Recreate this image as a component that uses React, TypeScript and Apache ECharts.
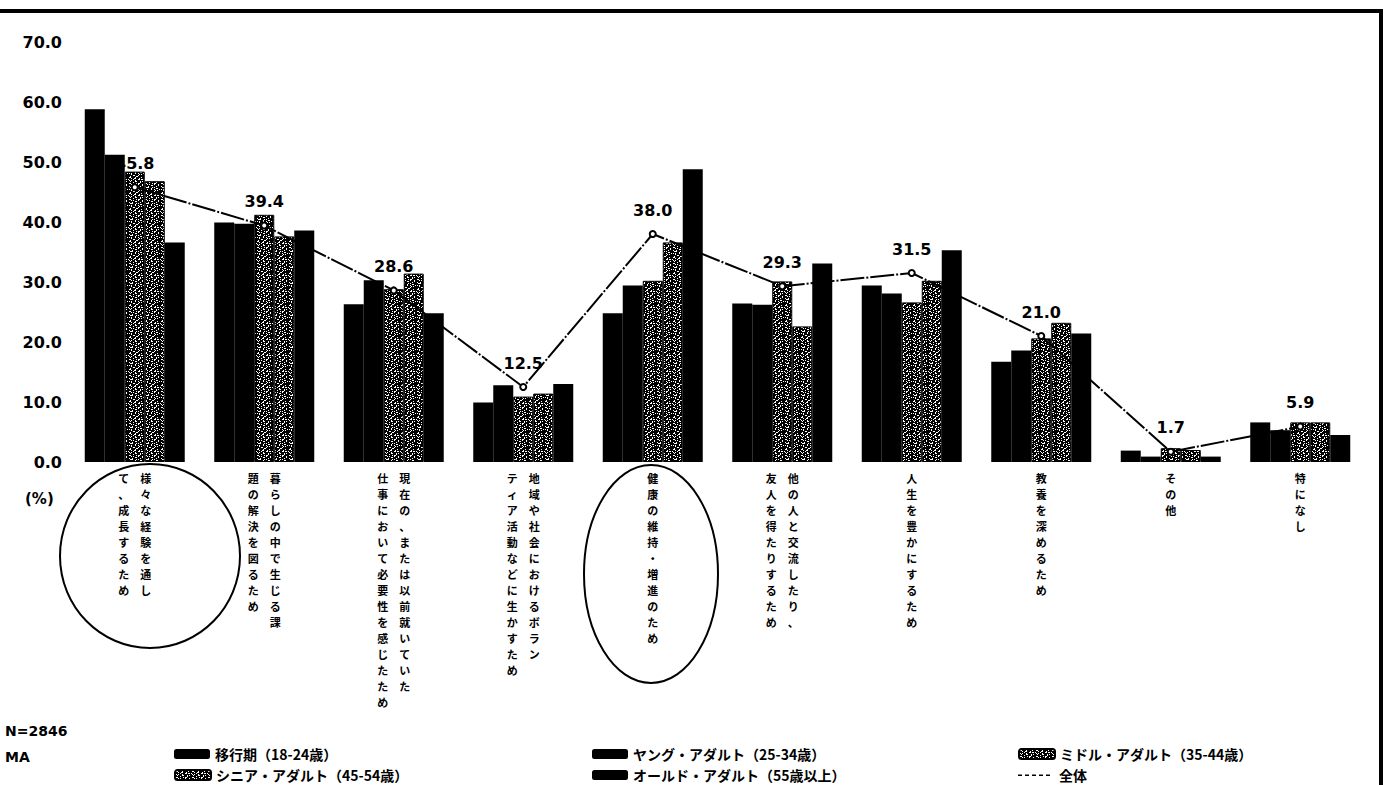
import React, { useEffect, useRef } from "react";
import * as echarts from "echarts";

// Reasons for learning, by life stage (multiple answers, %). "\n" marks the
// break between the right-hand and left-hand column of the vertical label.
const categories = [
  "様々な経験を通し\nて、成長するため",
  "暮らしの中で生じる課\n題の解決を図るため",
  "現在の、または以前就いていた\n仕事において必要性を感じたため",
  "地域や社会におけるボラン\nティア活動などに生かすため",
  "健康の維持・増進のため",
  "他の人と交流したり、\n友人を得たりするため",
  "人生を豊かにするため",
  "教養を深めるため",
  "その他",
  "特になし",
];

const seriesNames = [
  "移行期（18-24歳）",
  "ヤング・アダルト（25-34歳）",
  "ミドル・アダルト（35-44歳）",
  "シニア・アダルト（45-54歳）",
  "オールド・アダルト（55歳以上）",
  "全体",
];

const transition = [58.8, 39.9, 26.3, 9.9, 24.8, 26.4, 29.4, 16.7, 1.9, 6.6];
const youngAdult = [51.2, 39.7, 30.3, 12.8, 29.4, 26.2, 28.1, 18.6, 0.9, 5.3];
const middleAdult = [48.4, 41.2, 28.8, 10.9, 30.2, 30.1, 26.6, 20.6, 2.3, 6.6];
const seniorAdult = [46.8, 37.6, 31.4, 11.4, 36.6, 22.6, 30.2, 23.2, 2.0, 6.6];
const oldAdult = [36.6, 38.6, 24.8, 13.0, 48.8, 33.1, 35.3, 21.4, 0.9, 4.5];
const overall = [45.8, 39.4, 28.6, 12.5, 38.0, 29.3, 31.5, 21.0, 1.7, 5.9];

const yTicks = { min: 0, max: 70, interval: 10 };

const JP = '"Noto Sans CJK JP", "Noto Sans CJK SC", sans-serif';
const NUM = '"DejaVu Sans", Verdana, sans-serif';

// Fine stipple tile used for the two hatched series ('#' = ink).
const STIPPLE = [
  "##.#####..######",
  "#..####.#####.##",
  "###.##..###.####",
  ".####.####..#..#",
  "#.#.###.########",
  "##.####..###.#.#",
  "#####.######.###",
  "#..#####.#..####",
  "###.#.####.###.#",
  "#######..#####.#",
  "#.##.#######.###",
  "##...###.#.#####",
  "#######.####..##",
  "#.#.###.##.####.",
  "###.#######.#.##",
  "#####..###.#####",
];

function makeStipple(): HTMLCanvasElement {
  const cell = 1;
  const c = document.createElement("canvas");
  c.width = STIPPLE[0].length * cell;
  c.height = STIPPLE.length * cell;
  const ctx = c.getContext("2d")!;
  ctx.fillStyle = "#fff";
  ctx.fillRect(0, 0, c.width, c.height);
  ctx.fillStyle = "#000";
  STIPPLE.forEach((row, y) =>
    [...row].forEach((ch, x) => {
      if (ch === "#") ctx.fillRect(x * cell, y * cell, cell, cell);
    })
  );
  return c;
}

// Turn a label into upright vertical columns; the first column sits on the right.
function verticalLabel(value: string): string {
  const cols = value.split("\n").map((c) => [...c]);
  const n = Math.max(...cols.map((c) => c.length));
  const rows: string[] = [];
  for (let i = 0; i < n; i++) {
    let row = "";
    for (let j = cols.length - 1; j >= 0; j--) {
      const ch = cols[j][i] ?? "　";
      row += `{c|${ch}}`;
    }
    rows.push(row);
  }
  return rows.join("\n");
}

// Dotted legend glyph for the total line; the corner points keep its 36x10 box.
const DOTTED_ICON =
  "path://M0,0L0.1,0L0.1,0.1L0,0.1Z M36,10L35.9,10L35.9,9.9L36,9.9Z " +
  "M0,4.5h4v1.5h-4Z M7,4.5h4v1.5h-4Z M14,4.5h4v1.5h-4Z M21,4.5h4v1.5h-4Z M28,4.5h4v1.5h-4Z";

export default function App() {
  const ref = useRef<HTMLDivElement>(null);

  useEffect(() => {
    if (!ref.current) return;
    const chart = echarts.init(ref.current, undefined, { renderer: "svg" });
    const pattern = { image: makeStipple(), repeat: "repeat" as const };

    const barData = [transition, youngAdult, middleAdult, seniorAdult, oldAdult];
    const hatched = [false, false, true, true, false];

    const bars = barData.map((values, i) => ({
      name: seriesNames[i],
      type: "bar" as const,
      data: values,
      barWidth: 20,
      barGap: "0%",
      itemStyle: hatched[i]
        ? { color: pattern, borderColor: "#000", borderWidth: 1 }
        : { color: "#000" },
    }));

    const legendSlots = [
      [174, 747],
      [592, 747],
      [1018, 747],
      [174, 768],
      [592, 768],
      [1018, 768],
    ];

    const legends = seriesNames.map((name, i) => ({
      data: [i === 5 ? { name, icon: DOTTED_ICON } : name],
      left: legendSlots[i][0],
      top: legendSlots[i][1],
      padding: 0,
      itemWidth: 36,
      itemHeight: 10,
      selectedMode: false,
      textStyle: { fontFamily: JP, fontWeight: "bold", fontSize: 14, color: "#000" },
    }));

    chart.setOption({
      animation: false,
      backgroundColor: "#fff",
      grid: { left: 70, right: 21, top: 42, bottom: 323, containLabel: false },
      legend: legends,
      xAxis: {
        type: "category",
        data: categories,
        axisLine: { show: false },
        axisTick: { show: false },
        axisLabel: {
          interval: 0,
          margin: 8,
          formatter: verticalLabel,
          rich: {
            c: {
              width: 22,
              align: "center",
              fontFamily: JP,
              fontWeight: "bold",
              fontSize: 11,
              lineHeight: 16,
              color: "#000",
            },
          },
        },
      },
      yAxis: {
        type: "value",
        min: yTicks.min,
        max: yTicks.max,
        interval: yTicks.interval,
        axisLine: { show: false },
        axisTick: { show: false },
        splitLine: { show: false },
        axisLabel: {
          formatter: (v: number) => v.toFixed(1),
          fontFamily: NUM,
          fontWeight: "bold",
          fontSize: 16,
          color: "#000",
          margin: 8,
        },
      },
      series: [
        ...bars,
        {
          name: seriesNames[5],
          type: "line",
          data: overall,
          z: 5,
          symbol: "emptyCircle",
          symbolSize: 6,
          lineStyle: { color: "#000", width: 2, type: [24, 2, 2, 2] },
          itemStyle: { color: "#000", borderColor: "#000" },
          label: {
            show: true,
            position: "top",
            distance: 12,
            formatter: (p: any) => Number(p.value).toFixed(1),
            fontFamily: NUM,
            fontWeight: "bold",
            fontSize: 16,
            color: "#000",
          },
        },
      ],
      graphic: [
        {
          type: "rect",
          shape: { x: -10, y: 11, width: 1391, height: 800 },
          style: { fill: "none", stroke: "#000", lineWidth: 4 },
          silent: true,
        },
        {
          type: "ellipse",
          shape: { cx: 150, cy: 556, rx: 90, ry: 92 },
          style: { fill: "none", stroke: "#000", lineWidth: 2 },
          silent: true,
        },
        {
          type: "ellipse",
          shape: { cx: 651, cy: 574, rx: 67, ry: 109 },
          style: { fill: "none", stroke: "#000", lineWidth: 2 },
          silent: true,
        },
        {
          type: "text",
          left: 25,
          top: 491,
          style: { text: "(%)", fontFamily: NUM, fontWeight: "bold", fontSize: 15, fill: "#000" },
        },
        {
          type: "text",
          left: 5,
          top: 724,
          style: { text: "N=2846", fontFamily: NUM, fontWeight: "bold", fontSize: 14, fill: "#000" },
        },
        {
          type: "text",
          left: 5,
          top: 750,
          style: { text: "MA", fontFamily: NUM, fontWeight: "bold", fontSize: 14, fill: "#000" },
        },
      ],
    });

    return () => chart.dispose();
  }, []);

  return (
    <div
      ref={ref}
      style={{ position: "fixed", left: 0, top: 0, width: 1386, height: 785, background: "#fff" }}
    />
  );
}
